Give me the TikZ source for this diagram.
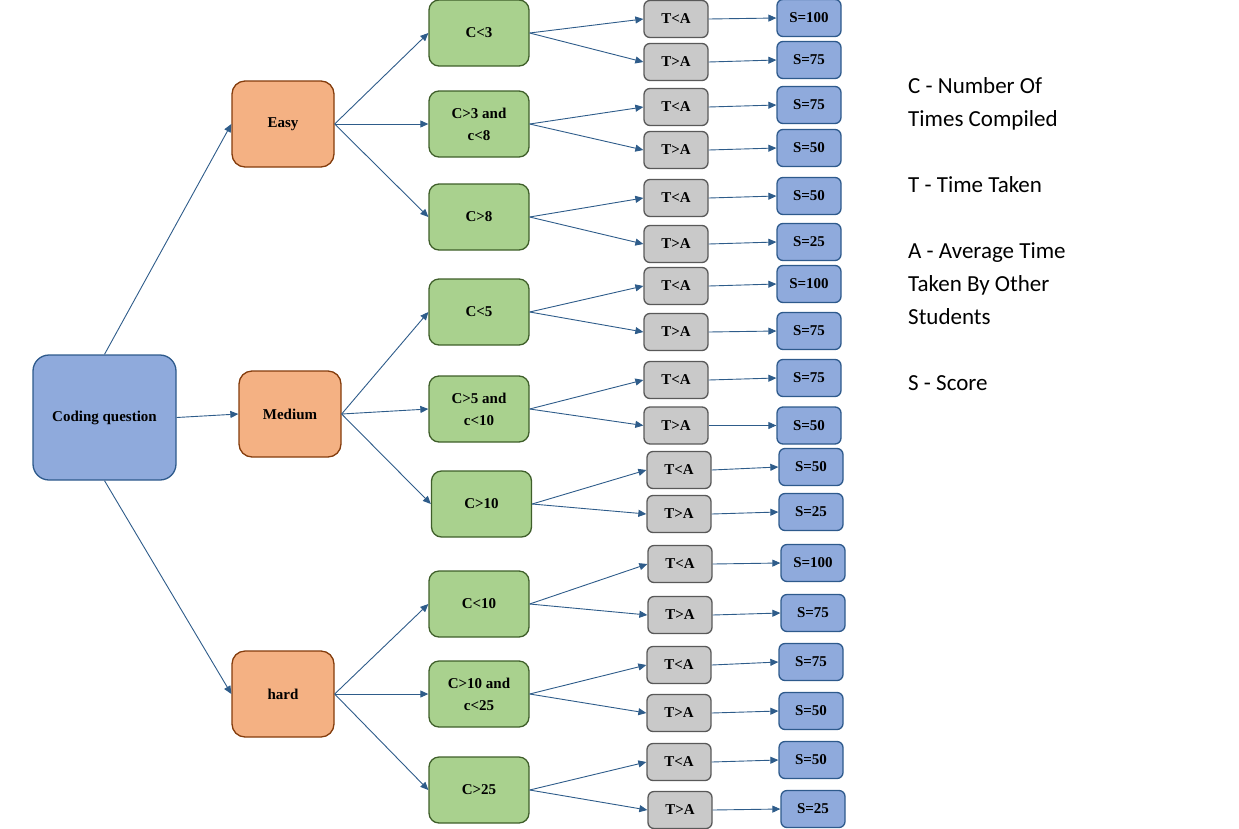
\documentclass[tikz,border=0pt]{standalone}
\usepackage{fontspec}
\setmainfont{Liberation Serif}
\newfontfamily\legendfont{Carlito}
\usetikzlibrary{arrows.meta}
\definecolor{cqfill}{HTML}{8FAADC}
\definecolor{cqdraw}{HTML}{2E5A8C}
\definecolor{orfill}{HTML}{F4B183}
\definecolor{ordraw}{HTML}{843C0C}
\definecolor{grfill}{HTML}{A9D18E}
\definecolor{grdraw}{HTML}{3F5F2A}
\definecolor{gyfill}{HTML}{C9C9C9}
\definecolor{gydraw}{HTML}{595959}
\definecolor{arrowc}{HTML}{2E5C8A}
\begin{document}
\begin{tikzpicture}[x=1pt,y=-1pt,
  box/.style={draw, line width=1.3pt, inner sep=0pt, align=center,
    font=\fontsize{15}{22}\selectfont\bfseries},
  root/.style={box, fill=cqfill, draw=cqdraw, minimum width=143pt, minimum height=125pt, rounded corners=16pt},
  level/.style={box, fill=orfill, draw=ordraw, minimum width=102pt, minimum height=86pt, rounded corners=13pt},
  cond/.style={box, fill=grfill, draw=grdraw, minimum width=100pt, minimum height=66pt, rounded corners=10pt},
  tnode/.style={box, fill=gyfill, draw=gydraw, minimum width=64pt, minimum height=37pt, rounded corners=6pt},
  snode/.style={box, fill=cqfill, draw=cqdraw, minimum width=64pt, minimum height=37pt, rounded corners=6pt},
  conn/.style={draw=arrowc, line width=0.9pt, -{Triangle[length=8pt,width=7pt]}},
  legend/.style={inner sep=0pt, align=left, font=\legendfont\fontsize{23}{33}\selectfont}
]
\useasboundingbox (0,0) rectangle (1239,828);

\node[root] (cq) at (104.5,417.5) {Coding question};
\node[level] (easy) at (283,124) {Easy};
\node[level] (medium) at (290,414) {Medium};
\node[level] (hard) at (283,694) {hard};

\node[cond] (c1) at (479,33) {C<3};
\node[cond] (c2) at (479,124) {C>3 and\\c<8};
\node[cond] (c3) at (479,217) {C>8};
\node[cond] (c4) at (479,312) {C<5};
\node[cond] (c5) at (479,409) {C>5 and\\c<10};
\node[cond] (c6) at (481.5,504) {C>10};
\node[cond] (c7) at (479,604) {C<10};
\node[cond] (c8) at (479,694) {C>10 and\\c<25};
\node[cond] (c9) at (479,790) {C>25};

\foreach \i/\x/\y/\t in {1/676/19/T<A, 2/676/62/T>A, 3/676/107/T<A, 4/676/150/T>A,
  5/676/198/T<A, 6/676/244/T>A, 7/676/286/T<A, 8/676/332/T>A, 9/676/380/T<A,
  10/676/425.5/T>A, 11/679/470/T<A, 12/679/514/T>A, 13/680/564/T<A, 14/680/615/T>A,
  15/679/665/T<A, 16/679/713/T>A, 17/679/762/T<A, 18/680/810/T>A}
  \node[tnode] (t\i) at (\x,\y) {\t};

\foreach \i/\x/\y/\t in {1/809/18/S=100, 2/809/60/S=75, 3/809/105/S=75, 4/809/148/S=50,
  5/809/196/S=50, 6/809/242/S=25, 7/809/284/S=100, 8/809/331/S=75, 9/809/378/S=75,
  10/809/425.5/S=50, 11/811/467/S=50, 12/811/512/S=25, 13/813/563/S=100, 14/813/613/S=75,
  15/811/662/S=75, 16/811/711/S=50, 17/811/760/S=50, 18/813/809/S=25}
  \node[snode] (s\i) at (\x,\y) {\t};

\draw[conn] (cq.north) -- (easy.west);
\draw[conn] (cq.east) -- (medium.west);
\draw[conn] (cq.south) -- (hard.west);

\foreach \c in {1,2,3} \draw[conn] (easy.east) -- (c\c.west);
\foreach \c in {4,5,6} \draw[conn] (medium.east) -- (c\c.west);
\foreach \c in {7,8,9} \draw[conn] (hard.east) -- (c\c.west);

\foreach \c [evaluate=\c as \a using int(2*\c-1), evaluate=\c as \b using int(2*\c)] in {1,...,9} {
  \draw[conn] (c\c.east) -- (t\a.west);
  \draw[conn] (c\c.east) -- (t\b.west);
}
\foreach \i in {1,...,18} \draw[conn] (t\i.east) -- (s\i.west);

\node[legend, anchor=north west] (leg) at (908,77.5)
  {C - Number Of\\Times Compiled\\[33pt]T - Time Taken\\[33pt]A - Average Time\\Taken By Other\\Students\\[33pt]S - Score};
\end{tikzpicture}
\end{document}
